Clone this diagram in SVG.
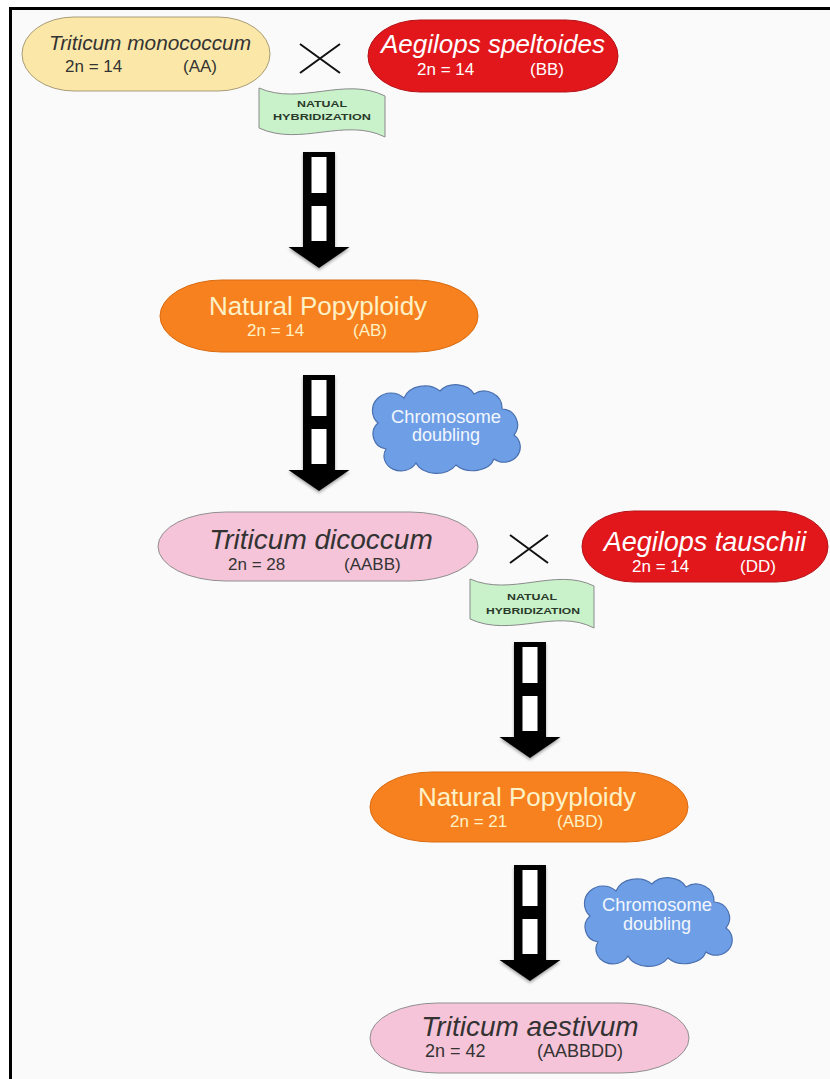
<svg xmlns="http://www.w3.org/2000/svg" xmlns:xlink="http://www.w3.org/1999/xlink" width="830" height="1079" viewBox="0 0 830 1079">
<defs>
<style>
.t{font-family:"Liberation Sans","Open Sans",sans-serif;}
.it{font-style:italic;}
.dark{fill:#333333;}
.light{fill:#ffffff;}
.cream{fill:#fdf1c6;}
.cloudtxt{fill:#f2f6fd;font-size:18px;}
.flagtxt{fill:#2a3a2a;font-size:9.5px;font-weight:bold;}
.yellow{fill:#fbe8a8;stroke:#a89c78;stroke-width:1;}
.red{fill:#e2171c;stroke:#b51217;stroke-width:1;}
.orange{fill:#f7811f;stroke:#d96b12;stroke-width:1;}
.pink{fill:#f6c4d8;stroke:#8f8f8f;stroke-width:1;}
.cloud{fill:#6e9fe6;stroke:#4a70b0;stroke-width:1.2;}
.flag{fill:#c9f2cb;stroke:#8a8a8a;stroke-width:1;}
.cross{stroke:#111;stroke-width:2;fill:none;}
</style>
<filter id="sh" x="-20%" y="-10%" width="140%" height="130%">
<feDropShadow dx="0" dy="2" stdDeviation="1.5" flood-color="#000" flood-opacity="0.35"/>
</filter>
<g id="bigArrow">
<rect x="-16" y="0" width="32" height="96" fill="#000"/>
<rect x="-7.5" y="5" width="15" height="36" fill="#fff"/>
<rect x="-7.5" y="54" width="15" height="35" fill="#fff"/>
<polygon points="-30.5,95 30.5,95 0,116" fill="#000"/>
</g>
<path id="cloudShape" d="M18,64 A15,15 0 0 1 10,38 A18,17 0 0 1 36,13 A22,18 0 0 1 72,6 A20,16 0 0 1 106,9 A18,17 0 0 1 134,24 A16,16 0 0 1 146,50 A16,15 0 0 1 126,74 A22,16 0 0 1 88,80 A22,16 0 0 1 48,78 A16,14 0 0 1 18,64 Z"/>
</defs>

<rect x="0" y="0" width="830" height="1079" fill="#ffffff"/>
<rect x="10" y="8" width="820" height="1071" fill="#fafafa"/>
<rect x="9" y="7" width="821" height="3" fill="#000"/>
<rect x="9" y="7" width="3" height="1072" fill="#000"/>

<g id="connectors">
<use xlink:href="#bigArrow" href="#bigArrow" x="319" y="152" filter="url(#sh)"/>
<use xlink:href="#bigArrow" href="#bigArrow" x="319" y="375" filter="url(#sh)"/>
<use xlink:href="#bigArrow" href="#bigArrow" x="530" y="642" filter="url(#sh)"/>
<use xlink:href="#bigArrow" href="#bigArrow" x="530" y="865" filter="url(#sh)"/>
<path class="cross" d="M300,44 L340,73 M340,44 L300,73"/>
<path class="cross" d="M510,535 L548,563 M548,535 L510,563"/>
</g>

<g id="node-monococcum">
<rect class="yellow" x="22" y="17" width="248" height="74" rx="52" ry="37"/>
<text class="t it dark" x="150" y="50" font-size="20" text-anchor="middle" textLength="202" lengthAdjust="spacingAndGlyphs">Triticum monococcum</text>
<text class="t dark" x="65" y="72" font-size="17">2n = 14</text>
<text class="t dark" x="183" y="72" font-size="17">(AA)</text>
</g>

<g id="node-speltoides">
<rect class="red" x="368" y="20" width="250" height="72" rx="52" ry="36"/>
<text class="t it light" x="493" y="53" font-size="26" text-anchor="middle">Aegilops speltoides</text>
<text class="t light" x="417" y="75" font-size="17">2n = 14</text>
<text class="t light" x="530" y="75" font-size="17">(BB)</text>
</g>

<g id="flag-hybrid-1">
<path class="flag" d="M259,88 C300,106 345,76 385,96 L385,137 C345,117 300,147 259,128 Z"/>
<text class="t flagtxt" x="322" y="107" text-anchor="middle" textLength="50" lengthAdjust="spacingAndGlyphs">NATUAL</text>
<text class="t flagtxt" x="322" y="120" text-anchor="middle" textLength="98" lengthAdjust="spacingAndGlyphs">HYBRIDIZATION</text>
</g>

<g id="node-popyploidy-1">
<rect class="orange" x="160" y="280" width="318" height="72" rx="62" ry="36"/>
<text class="t cream" x="318" y="315" font-size="26" text-anchor="middle">Natural Popyploidy</text>
<text class="t cream" x="247" y="336" font-size="17">2n = 14</text>
<text class="t cream" x="353" y="336" font-size="17">(AB)</text>
</g>

<g id="cloud-doubling-1">
<use xlink:href="#cloudShape" href="#cloudShape" class="cloud" transform="translate(368,385)"/>
<text class="t cloudtxt" x="446" y="423" text-anchor="middle" textLength="110" lengthAdjust="spacingAndGlyphs">Chromosome</text>
<text class="t cloudtxt" x="446" y="441" text-anchor="middle">doubling</text>
</g>

<g id="node-dicoccum">
<rect class="pink" x="158" y="512" width="320" height="69" rx="68" ry="34.5"/>
<text class="t it dark" x="321" y="549" font-size="28" text-anchor="middle">Triticum dicoccum</text>
<text class="t dark" x="228" y="570" font-size="17">2n = 28</text>
<text class="t dark" x="344" y="570" font-size="17">(AABB)</text>
</g>

<g id="node-tauschii">
<rect class="red" x="582" y="511" width="246" height="71" rx="52" ry="35.5"/>
<text class="t it light" x="705" y="551" font-size="27" text-anchor="middle">Aegilops tauschii</text>
<text class="t light" x="632" y="572" font-size="17">2n = 14</text>
<text class="t light" x="740" y="572" font-size="17">(DD)</text>
</g>

<g id="flag-hybrid-2">
<path class="flag" d="M470,579 C511,597 556,567 594,586 L594,628 C556,608 511,638 470,619 Z"/>
<text class="t flagtxt" x="532" y="600" text-anchor="middle" textLength="50" lengthAdjust="spacingAndGlyphs">NATUAL</text>
<text class="t flagtxt" x="533" y="614" text-anchor="middle" textLength="94" lengthAdjust="spacingAndGlyphs">HYBRIDIZATION</text>
</g>

<g id="node-popyploidy-2">
<rect class="orange" x="370" y="772" width="318" height="70" rx="62" ry="35"/>
<text class="t cream" x="527" y="806" font-size="26" text-anchor="middle">Natural Popyploidy</text>
<text class="t cream" x="450" y="827" font-size="17">2n = 21</text>
<text class="t cream" x="557" y="827" font-size="17">(ABD)</text>
</g>

<g id="cloud-doubling-2">
<use xlink:href="#cloudShape" href="#cloudShape" class="cloud" transform="translate(580,878)"/>
<text class="t cloudtxt" x="657" y="911" text-anchor="middle" textLength="110" lengthAdjust="spacingAndGlyphs">Chromosome</text>
<text class="t cloudtxt" x="657" y="930" text-anchor="middle">doubling</text>
</g>

<g id="node-aestivum">
<rect class="pink" x="370" y="1003" width="319" height="70" rx="68" ry="35"/>
<text class="t it dark" x="530" y="1036" font-size="28" text-anchor="middle">Triticum aestivum</text>
<text class="t dark" x="425" y="1057" font-size="18">2n = 42</text>
<text class="t dark" x="537" y="1057" font-size="18">(AABBDD)</text>
</g>
</svg>
